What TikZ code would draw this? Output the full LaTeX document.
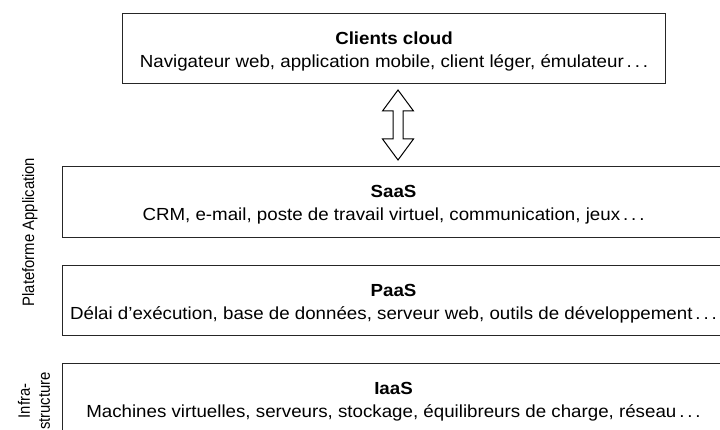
\documentclass[tikz,border=0pt]{standalone}
\usepackage{fontspec}
\setmainfont{Liberation Sans}[FakeStretch=1.07]
\newfontfamily\sidefont{Liberation Sans}[FakeStretch=0.9]
\usetikzlibrary{calc}
% taller first line so the two text lines sit a little lower in their box
\newcommand{\toprow}{\rule{0pt}{18pt}}
\begin{document}
\begin{tikzpicture}[x=1pt,y=-1pt,
  layer/.style={draw=black!85, line width=1.1pt, anchor=north west, inner sep=0pt,
    align=center, font=\fontsize{17.5}{23}\selectfont},
  side/.style={rotate=90, inner sep=0pt, align=center, font=\sidefont\fontsize{16.5}{20}\selectfont},
  flow/.style={draw=black, line width=1pt, fill=white, line join=miter}]
\useasboundingbox (0,0) rectangle (720,430);

% client tier
\node[layer, minimum width=543pt, minimum height=70pt] (clients) at (122,13)
  {\toprow\textbf{Clients cloud}\\Navigateur web, application mobile, client léger, émulateur\,.\,.\,.};

% service layers
\node[layer, minimum width=662pt, minimum height=71pt] (saas) at (62,166)
  {\toprow\textbf{SaaS}\\CRM, e-mail, poste de travail virtuel, communication, jeux\,.\,.\,.};
\node[layer, minimum width=662pt, minimum height=70pt] (paas) at (62,265)
  {\toprow\textbf{PaaS}\\Délai d’exécution, base de données, serveur web, outils de développement\,.\,.\,.};
\node[layer, minimum width=662pt, minimum height=71pt] (iaas) at (62,363)
  {\toprow\textbf{IaaS}\\Machines virtuelles, serveurs, stockage, équilibreurs de charge, réseau\,.\,.\,.};

% two-headed outline arrow between clients and SaaS
\coordinate (ctop) at (398,90);
\coordinate (cbot) at (398,160);
\draw[flow] (ctop) -- ++(-15.5,21) -- ++(10.5,0) -- ($(cbot)+(-5,-21)$) -- ++(-10.5,0)
  -- (cbot) -- ++(15.5,-21) -- ++(-10.5,0) -- ($(ctop)+(5,21)$) -- ++(10.5,0) -- cycle;

% side labels
\node[side, anchor=base] (plat) at (34,232) {Plateforme Application};
\node[side] (infra) at (34,401) {Infra-\\structure};
\end{tikzpicture}
\end{document}
